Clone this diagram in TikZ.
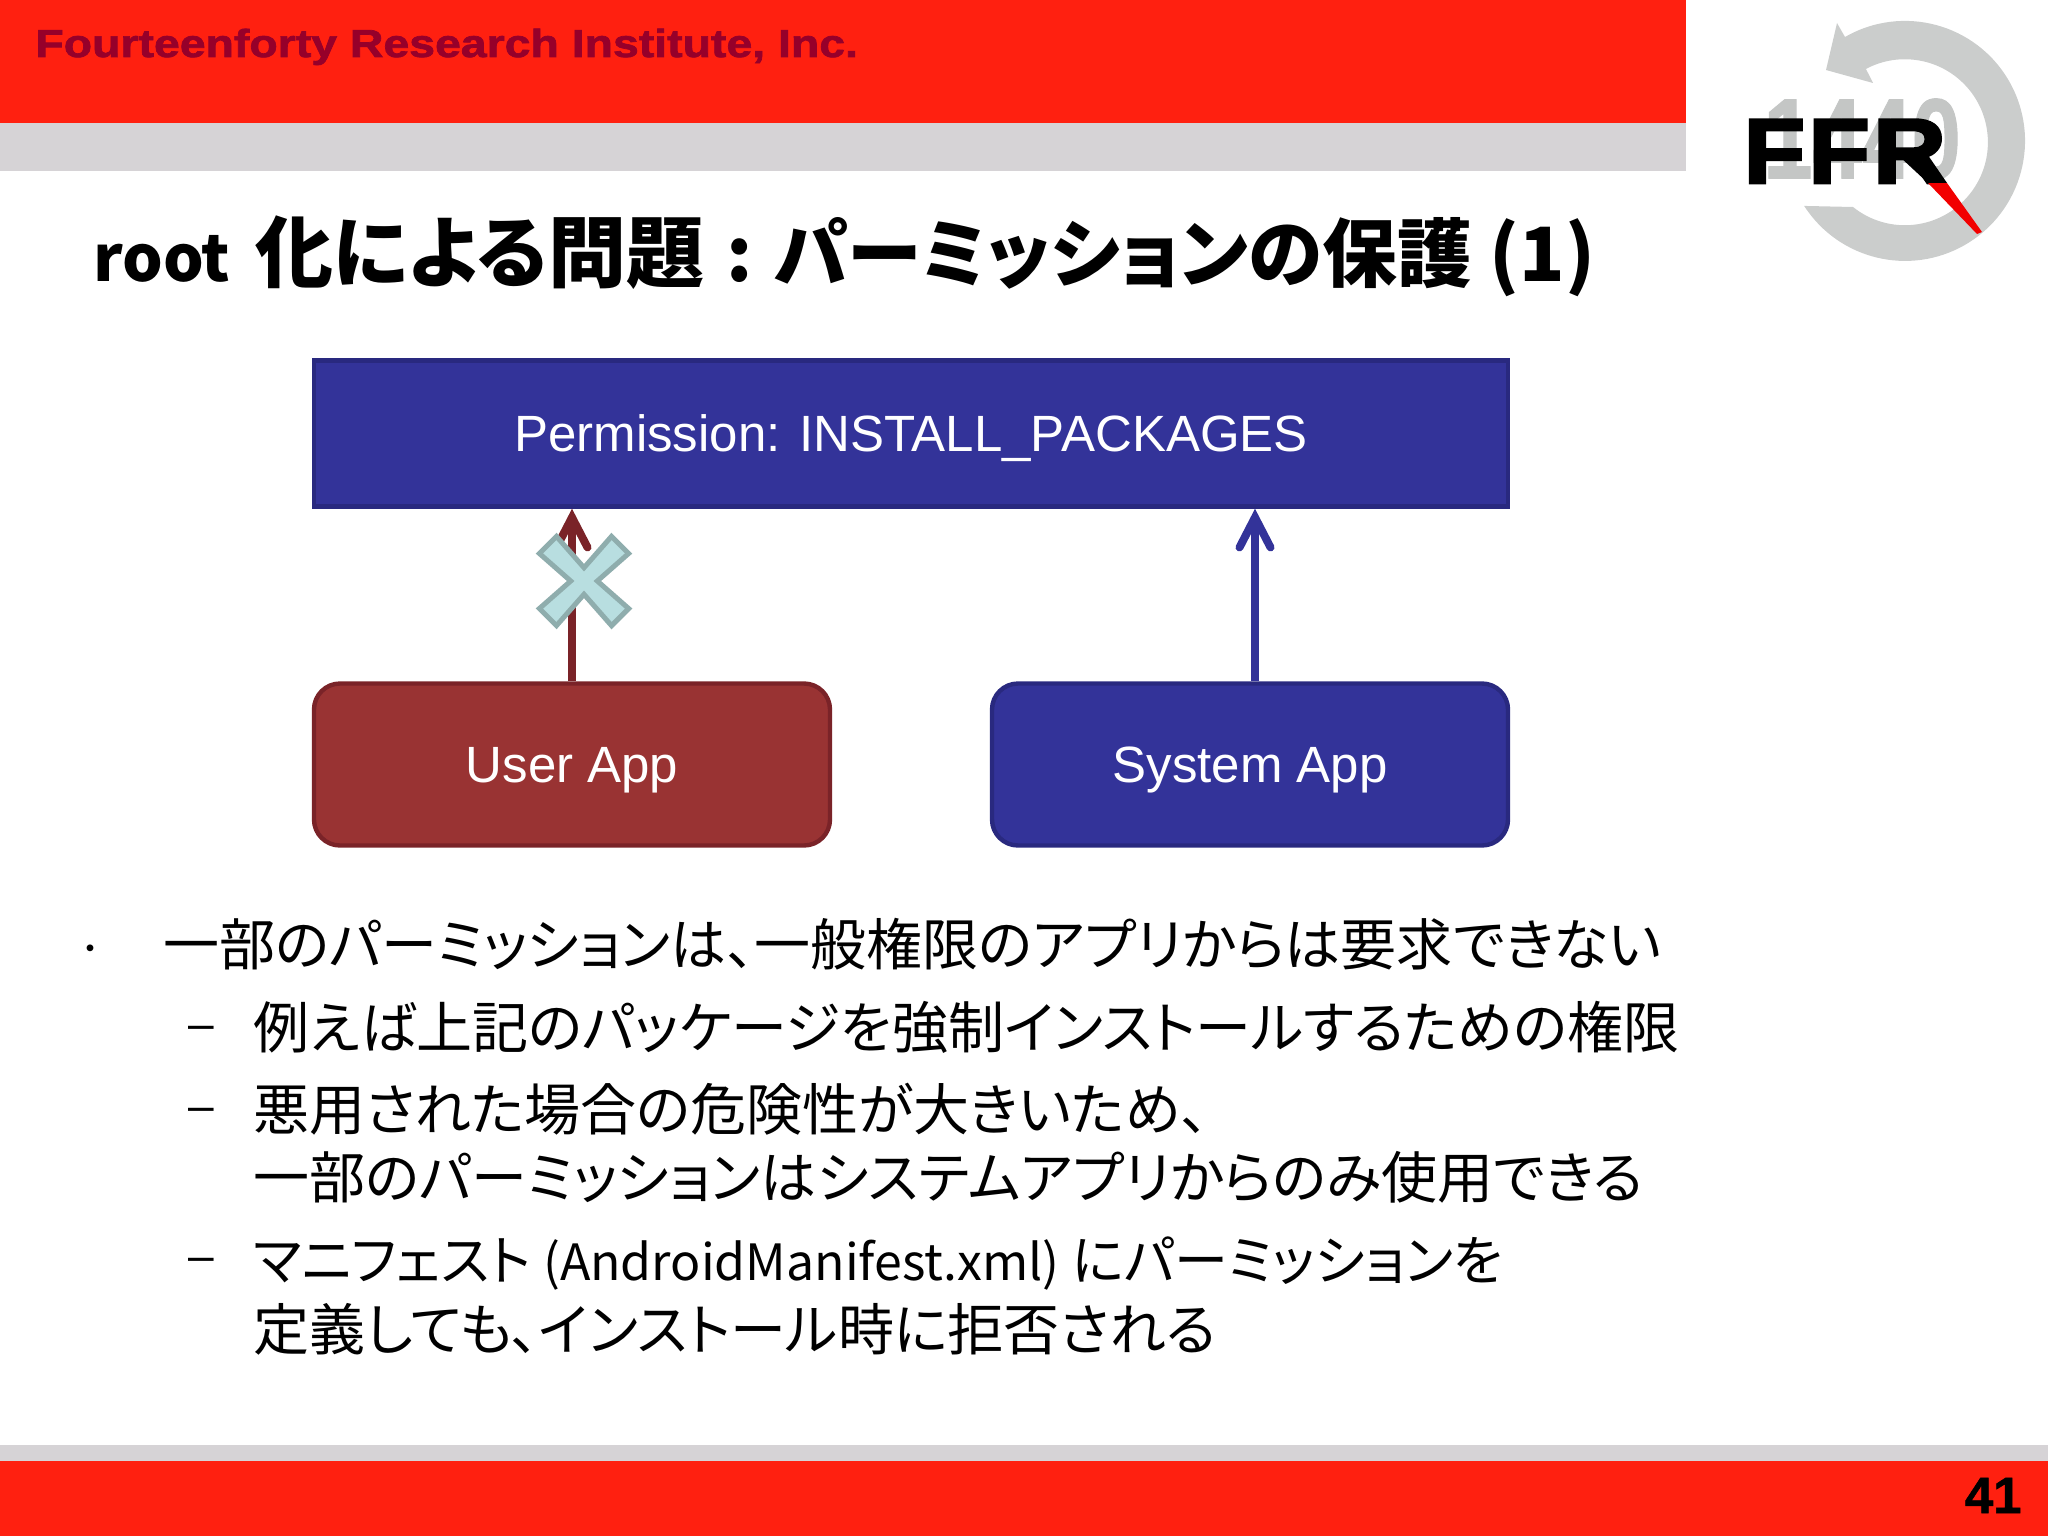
\documentclass[tikz,border=0pt]{standalone}
\usepackage{fontspec}
\setmainfont{Liberation Sans}
\newfontfamily\cjkfont[RawFeature=+palt]{Noto Sans CJK JP}
\newfontfamily\heavyfont[FakeBold=3,FakeStretch=1.1]{Liberation Sans Bold}
\newfontfamily\headfont[FakeBold=1.8,FakeStretch=1.19]{Liberation Sans Bold}
\newfontfamily\numfont[FakeBold=1]{Liberation Sans Bold}
\usetikzlibrary{calc,arrows.meta}
\newcommand{\appname}[1]{{\fontsize{25.5pt}{30pt}\selectfont #1}}
\newcommand{\jptext}[1]{{\cjkfont\fontsize{28pt}{30pt}\selectfont #1}}
\definecolor{ffrred}{HTML}{FF2010}
\definecolor{ffrgray}{HTML}{D6D3D6}
\definecolor{logogray}{HTML}{CBCDCC}
\definecolor{numgray}{HTML}{C4C6C5}
\definecolor{headred}{HTML}{96002A}
\definecolor{permblue}{HTML}{333399}
\definecolor{permedge}{HTML}{29297F}
\definecolor{userred}{HTML}{993333}
\definecolor{useredge}{HTML}{7A2328}
\definecolor{crossfill}{HTML}{B8DEE0}
\definecolor{crossedge}{HTML}{8FADAD}

\begin{document}
\begin{tikzpicture}[
 x=0.5pt,
 y=-0.5pt,
 >={Straight Barb[length=15pt,width=15.5pt,line cap=round]},
 band/.style={
  inner sep=0pt,
  outer sep=0pt,
  rectangle,
 },
 box/.style={
  inner sep=0pt,
  line width=2.2pt,
  rectangle,
  align=center,
  text=white,
  text height=18.3pt,
  text depth=0pt,
 },
 permission/.style={
  box,
  draw=permedge,
  fill=permblue,
  minimum width=597pt,
  minimum height=73pt,
 },
 app/.style={
  box,
  rounded corners=13pt,
  minimum width=258pt,
  minimum height=81pt,
 },
 line/.style={
  anchor=base west,
  inner sep=0pt,
 },
 link/.style={
  ->,
  line width=4pt,
 },
]
\useasboundingbox (0,0) rectangle (2048,1536);

\node at (843,61.5) [band,fill=ffrred,minimum width=843pt,minimum height=61.5pt] (topred) {};
\node at (843,147) [band,fill=ffrgray,minimum width=843pt,minimum height=24pt] (topgray) {};
\node at (1024,1453) [band,fill=ffrgray,minimum width=1024pt,minimum height=8pt] (bottomgray) {};
\node at (1024,1498.5) [band,fill=ffrred,minimum width=1024pt,minimum height=37.5pt] (bottomred) {};

\node at (35,57) [line,text=headred] (company) {\headfont\fontsize{19.5pt}{22pt}\selectfont Fourteenforty Research Institute, Inc.};
\node at (2022,1513) [anchor=base east,inner sep=0pt] (pagenum) {\numfont\fontsize{25.5pt}{30pt}\selectfont 41};

% logo
\fill[logogray] (1845,37) arc[start angle=-120,end angle=147.2,radius=120]
 -- (1853,207) arc[start angle=128.7,end angle=-118,radius=83]
 -- (1873,83) -- (1826,70) -- (1837,23) -- cycle;
\node at (1862,139) [numgray,xscale=0.78,transform shape,inner sep=0pt] (logonum) {\numfont\fontsize{57pt}{60pt}\selectfont 1440};
\node at (1743,183) [anchor=base west,inner sep=0pt] (logoname) {\heavyfont\fontsize{46pt}{50pt}\selectfont F\kern1.5pt F\kern1.5pt R};
\fill[black] (1900,157) -- (1923,148) -- (1947,183) -- (1928,183) -- cycle;
\fill[red!95!black] (1928,183) -- (1947,183) -- (1982,232) -- (1977,234) -- cycle;

\node at (93,281) [line] (title) {\cjkfont\bfseries{\fontsize{32pt}{40pt}\selectfont root}\hspace{12.5pt}{\fontsize{39pt}{40pt}\selectfont 化による問題}\fontsize{37.4pt}{40pt}\selectfont\hspace{11pt}:\hspace{11pt}パーミッションの保護\hspace{9pt}(1)};

\node at (911,433.5) [permission] (install) {\appname{Permission: INSTALL\_PACKAGES}};
\node at (572,764.5) [app,draw=useredge,fill=userred] (userapp) {\appname{User App}};
\node at (1250,764.5) [app,draw=permedge,fill=permblue] (systemapp) {\appname{System App}};

\draw[link,useredge] (userapp.north) -- (install.south -| userapp.north);
\draw[link,permblue] ([xshift=2.5pt]systemapp.north) -- ([xshift=2.5pt]install.south -| systemapp.north);

% cross over the refused link
\draw[shift={(584,581)},scale=0.95,line width=2.5pt,draw=crossedge,fill=crossfill]
 (-29,-47) -- (0,-14) -- (29,-47) -- (47,-29) -- (14,0) -- (47,29) -- (29,47)
 -- (0,14) -- (-29,47) -- (-47,29) -- (-14,0) -- (-47,-29) -- cycle;

\node at (90,953) [inner sep=0pt] (bullet) {{\cjkfont\fontsize{16pt}{20pt}\selectfont ・}};
\node at (163,965) [line] (line1) {\jptext{一部のパーミッションは、一般権限のアプリからは要求できない}};
\foreach \y/\name in {1033/a,1115/b,1265/c}
 \node at (201,\y) [inner sep=0pt] (dash\name) {\fontsize{23pt}{26pt}\selectfont –};
\node at (253,1048) [line] (line2) {\jptext{例えば上記のパッケージを強制インストールするための権限}};
\node at (253,1130) [line] (line3) {\jptext{悪用された場合の危険性が大きいため、}};
\node at (253,1198) [line] (line4) {\jptext{一部のパーミッションはシステムアプリからのみ使用できる}};
\node at (253,1280) [line] (line5) {{\cjkfont\fontsize{27pt}{30pt}\selectfont マニフェスト {\fontsize{25pt}{30pt}\selectfont (AndroidManifest.xml)} にパーミッションを}};
\node at (253,1350) [line] (line6) {\jptext{定義しても、インストール時に拒否される}};

\end{tikzpicture}
\end{document}
